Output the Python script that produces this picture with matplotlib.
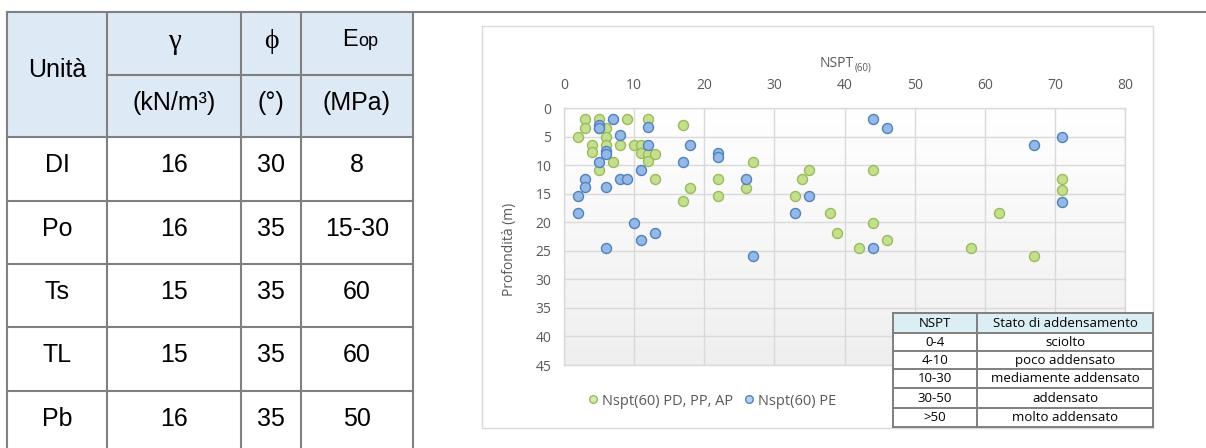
import matplotlib
matplotlib.use("Agg")
import matplotlib.pyplot as plt
from matplotlib.patches import Rectangle
from matplotlib.lines import Line2D
from matplotlib.colors import LinearSegmentedColormap
import numpy as np

# ---- data ----
units = ["DI", "Po", "Ts", "TL", "Pb"]
gamma = ["16", "16", "15", "15", "16"]
phi = ["30", "35", "35", "35", "35"]
e_op = ["8", "15-30", "60", "60", "50"]

green_x = [3, 5, 9, 12, 3, 5, 6, 17, 2, 6, 4, 6, 8, 10, 11, 4, 11, 12, 13, 7, 12, 27,
           5, 13, 22, 18, 26, 22, 17, 33, 34, 35, 38, 39, 44, 71, 71, 62, 44, 46, 42, 58, 67]
green_y = [2, 2, 2, 2, 3.5, 3.5, 3.5, 3, 5, 5, 6.5, 6.5, 6.5, 6.5, 6.5, 7.7, 7.8, 8, 8, 9.5, 9.3, 9.5,
           10.8, 12.4, 12.4, 14, 14, 15.4, 16.3, 15.4, 12.4, 10.8, 18.4, 21.9, 10.8, 12.4, 14.3,
           18.4, 20.1, 23.1, 24.6, 24.6, 26]
blue_x = [7, 5, 5, 12, 8, 18, 12, 6, 6, 22, 22, 5, 17, 11, 3, 8, 9, 26, 3, 6, 2, 2, 10, 11,
          13, 6, 27, 33, 35, 44, 46, 71, 67, 71, 44]
blue_y = [2, 3, 3.5, 3.4, 4.8, 6.5, 6.4, 7.5, 8, 7.8, 8.5, 9.4, 9.4, 10.8, 12.4, 12.4, 12.4, 12.4,
          13.8, 13.8, 15.4, 18.4, 20.1, 23.1, 21.9, 24.6, 26, 18.4, 15.4, 2, 3.5, 5, 6.5, 16.4, 24.6]

nspt_cls = ["0-4", "4-10", "10-30", "30-50", ">50"]
stato = ["sciolto", "poco addensato", "mediamente addensato", "addensato", "molto addensato"]

W, H = 1206, 448
plt.rcParams['font.family'] = ['Open Sans', 'DejaVu Sans']
fig = plt.figure(figsize=(W / 100, H / 100), dpi=100)


def fx(px):
    return px / W


def fy(py):
    return 1 - py / H


def hline(y, x0, x1, color='#808080', lw=1.5, z=2):
    fig.add_artist(Line2D([fx(x0), fx(x1)], [fy(y), fy(y)], color=color, lw=lw,
                          transform=fig.transFigure, zorder=z))


def vline(x, y0, y1, color='#808080', lw=1.5, z=2):
    fig.add_artist(Line2D([fx(x), fx(x)], [fy(y0), fy(y1)], color=color, lw=lw,
                          transform=fig.transFigure, zorder=z))


def rect(x0, y0, x1, y1, fc, ec='none', lw=0, z=0):
    fig.add_artist(Rectangle((fx(x0), fy(y1)), fx(x1) - fx(x0), fy(y0) - fy(y1),
                             facecolor=fc, edgecolor=ec, lw=lw, transform=fig.transFigure, zorder=z))


# ---- left table ----
cols = [7, 107, 241, 301, 413]
rows = [13, 75, 137, 201, 264, 327, 391]
sans = ['Liberation Sans', 'DejaVu Sans']
serif = ['Liberation Serif', 'DejaVu Serif']

rect(cols[0], rows[0], cols[-1], rows[2], '#dde9f5')
hline(12, 7, 1206)
hline(rows[1], cols[1], cols[-1])
for r in rows[2:]:
    hline(r, cols[0], cols[-1])
for c in cols:
    vline(c, 12, 448)

ccen = [(cols[i] + cols[i + 1]) / 2 for i in range(4)]
fig.text(fx(ccen[0]), fy(77), "Unità", ha='center', va='baseline', fontsize=18, family=sans)
fig.text(fx(ccen[1]), fy(42), "γ", ha='center', va='center', fontsize=21, family=serif)
fig.text(fx(ccen[2]), fy(42), "ϕ", ha='center', va='center', fontsize=20, family=serif)
fig.text(fx(ccen[3] + 1), fy(46), "E", ha='right', va='baseline', fontsize=17, family=sans)
fig.text(fx(ccen[3] + 1), fy(46), "op", ha='left', va='baseline', fontsize=13, family=sans)
fig.text(fx(ccen[1]), fy(110), "(kN/m³)", ha='center', va='baseline', fontsize=18, family=sans)
fig.text(fx(ccen[2]), fy(110), "(°)", ha='center', va='baseline', fontsize=18, family=sans)
fig.text(fx(ccen[3]), fy(110), "(MPa)", ha='center', va='baseline', fontsize=18, family=sans)
for i in range(5):
    base = rows[2 + i] + 35
    for j, val in enumerate([units[i], gamma[i], phi[i], e_op[i]]):
        fig.text(fx(ccen[j]), fy(base), val, ha='center', va='baseline', fontsize=18, family=sans)

# ---- chart ----
rect(482, 26, 1153, 428, 'white', ec='#d9d9d9', lw=1)

gray = '#595959'
ax = fig.add_axes([fx(564), fy(365), fx(1125) - fx(564), fy(108) - fy(365)])
grad = LinearSegmentedColormap.from_list('g', ['#ffffff', '#efefef'])
ax.imshow(np.linspace(0, 1, 100).reshape(-1, 1), cmap=grad, aspect='auto',
          extent=[0, 80, 45, 0], zorder=0)
ax.set_xlim(0, 80)
ax.set_ylim(45, 0)
ax.set_xticks(range(0, 81, 10))
ax.set_yticks(range(0, 46, 5))
ax.xaxis.tick_top()
ax.tick_params(length=0, labelsize=10, labelcolor=gray)
ax.tick_params(axis='x', pad=11)
ax.tick_params(axis='y', pad=9)
ax.grid(True, color='#d9d9d9', lw=1)
ax.set_axisbelow(True)
for s in ax.spines.values():
    s.set_color('#d9d9d9')
    s.set_linewidth(1)

ax.scatter(green_x, green_y, s=52, facecolor='#c3df8f', edgecolor='#9bbb59', lw=1, zorder=3)
ax.scatter(blue_x, blue_y, s=52, facecolor='#95b8e6', edgecolor='#4f81bd', lw=1, zorder=4)

fig.text(fx(854), fy(67), "NSPT", ha='right', va='baseline', fontsize=10, color=gray)
fig.text(fx(855), fy(70), "(60)", ha='left', va='baseline', fontsize=7, color=gray)
fig.text(fx(510), fy(249), "Profondità (m)", rotation=90, ha='center', va='center',
         fontsize=10, color=gray)

handles = [Line2D([], [], ls='none', marker='o', ms=5.5, mfc='#d7eab3', mec='#9bbb59', mew=1),
           Line2D([], [], ls='none', marker='o', ms=5.5, mfc='#b9d0ee', mec='#4f81bd', mew=1)]
leg = ax.legend(handles, ["Nspt(60) PD, PP, AP", "Nspt(60) PE"], loc='center left',
                bbox_to_anchor=(fx(586), fy(401)), bbox_transform=fig.transFigure, ncol=2,
                frameon=False, handletextpad=0.1, columnspacing=0.6, handlelength=1,
                borderpad=0, borderaxespad=0, fontsize=10.5)
for t in leg.get_texts():
    t.set_color(gray)

# ---- inset table ----
tx = [893, 977, 1153]
ty = [313, 333, 351, 369, 388, 408, 427]
rect(tx[0], ty[0], tx[-1], ty[-1], 'white', z=5)
rect(tx[0], ty[0], tx[-1], ty[1], '#dbeef3', z=5)
for y in ty:
    hline(y, tx[0], tx[-1], color='#7f7f7f', lw=1.4, z=7)
for x in tx:
    vline(x, ty[0], ty[-1], color='#7f7f7f', lw=1.4, z=7)
icen = [(tx[0] + tx[1]) / 2, (tx[1] + tx[2]) / 2]
fs = 9.5
fig.text(fx(icen[0]), fy((ty[0] + ty[1]) / 2), "NSPT", ha='center', va='center', fontsize=fs, zorder=8)
fig.text(fx(icen[1]), fy((ty[0] + ty[1]) / 2), "Stato di addensamento", ha='center', va='center',
         fontsize=fs, zorder=8)
for i in range(5):
    yc = (ty[i + 1] + ty[i + 2]) / 2
    fig.text(fx(icen[0]), fy(yc), nspt_cls[i], ha='center', va='center', fontsize=fs, zorder=8)
    fig.text(fx(icen[1]), fy(yc), stato[i], ha='center', va='center', fontsize=fs, zorder=8)

fig.savefig("out.png", dpi=100)
